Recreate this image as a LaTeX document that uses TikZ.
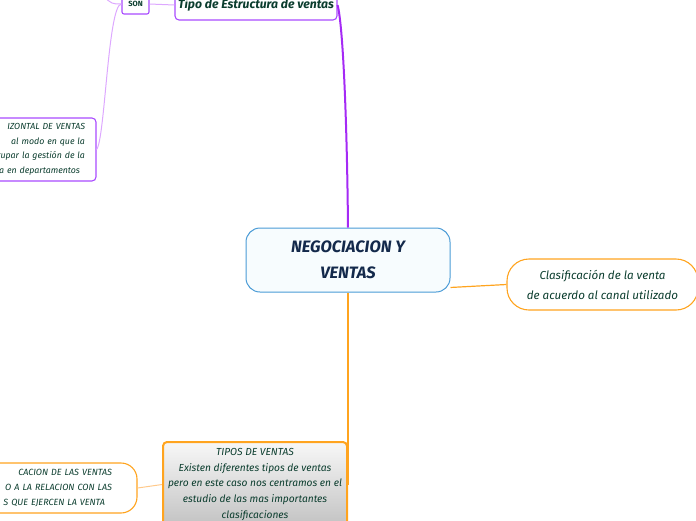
\documentclass[tikz,border=0pt]{standalone}
\usepackage{fontspec}
\setmainfont{Fira Sans}
\usetikzlibrary{calc}
\definecolor{blueb}{HTML}{4A9BD6}
\definecolor{bluefill}{HTML}{F7FCFE}
\definecolor{purpb}{HTML}{A94BFF}
\definecolor{purpmain}{HTML}{A52AF5}
\definecolor{purplight}{HTML}{DDA8FF}
\definecolor{orangeb}{HTML}{FFA41F}
\definecolor{orangelight}{HTML}{FFC98A}
\definecolor{txtgreen}{HTML}{0B3D2E}
\definecolor{txtnavy}{HTML}{13294B}
\tikzset{
  box/.style={draw, inner sep=0pt, align=center, text=txtgreen},
  purpbox/.style={box, draw=purpb, line width=1.1pt, fill=white, rounded corners=4pt},
  orangebox/.style={box, draw=orangeb, line width=1.1pt, fill=white},
  purpline/.style={draw=purplight, line width=1pt},
  orangeline/.style={draw=orangeb, line width=1.2pt},
  orangelightline/.style={draw=orangelight, line width=1pt},
}
\begin{document}
\begin{tikzpicture}[x=1pt,y=-1pt]
\useasboundingbox (0,0) rectangle (696,520);
\clip (0,0) rectangle (696,520);

% central
\node[box, draw=blueb, line width=1pt, fill=bluefill, rounded corners=14pt,
      minimum width=204pt, minimum height=64pt, text=txtnavy,
      font=\fontsize{16.5}{26}\selectfont\bfseries\itshape] (cent) at (348,260) {NEGOCIACION Y\\VENTAS};

% top structure
\node[purpbox, minimum width=162pt, minimum height=30pt,
      font=\fontsize{12.2}{14}\selectfont\bfseries\itshape] (tipo) at (256,5) {Tipo de Estructura de ventas};
\node[purpbox, rounded corners=2pt, minimum width=27pt, minimum height=20pt,
      font=\fontsize{7.5}{8}\selectfont\bfseries] (son) at (135.5,4) {SON};
\node[purpbox, minimum width=216pt, minimum height=63pt, text width=194pt, align=right,
      font=\fontsize{8.8}{14.7}\selectfont\itshape] (horiz) at (-12,149.5)
  {IZONTAL DE VENTAS\hspace*{2pt}\\al modo en que la\hspace*{12pt}\\rupar la gestión de la\\a en departamentos\hspace*{5pt}};
\coordinate (offtop) at (103,-4);

% right
\node[orangebox, rounded corners=22pt, minimum width=191pt, minimum height=51pt,
      font=\fontsize{11.6}{20}\selectfont\itshape] (clas) at (602.5,284.5)
  {Clasificación de la venta\\de acuerdo al canal utilizado};

% bottom
\node[box, draw=orangeb, line width=2pt, rounded corners=4pt, top color=black!3, bottom color=black!24,
      minimum width=184pt, minimum height=85pt,
      font=\fontsize{10.2}{15.8}\selectfont\itshape] (tipos) at (255,484.5)
  {TIPOS DE VENTAS\\Existen diferentes tipos de ventas\\pero en este caso nos centramos en el\\estudio de las mas importantes\\clasificaciones};
\node[orangebox, rounded corners=16pt, minimum width=237pt, minimum height=50pt, text width=187pt, align=right,
      font=\fontsize{9}{15}\selectfont\itshape] (tclass) at (18.5,488)
  {CACION DE LAS VENTAS\hspace*{15pt}\\O A LA RELACION CON LAS\\S QUE EJERCEN LA VENTA\hspace*{7pt}};

% connectors
\draw[draw=purpmain, line width=2pt] (cent.north) .. controls (347,120) and (343,25) .. (tipo.east);
\draw[purpline] (son.east) -- (tipo.west);
\draw[purpline] (son.west) .. controls (108,4) and (105,140) .. (horiz.east);
\draw[purpline] (son.west) .. controls (112,4) .. (offtop);
\draw[orangeline] (cent.-15) -- (clas.west);
\draw[orangeline] (cent.south) -- (tipos.east);
\draw[orangelightline] (tipos.west) -- (tclass.east);
\end{tikzpicture}
\end{document}
